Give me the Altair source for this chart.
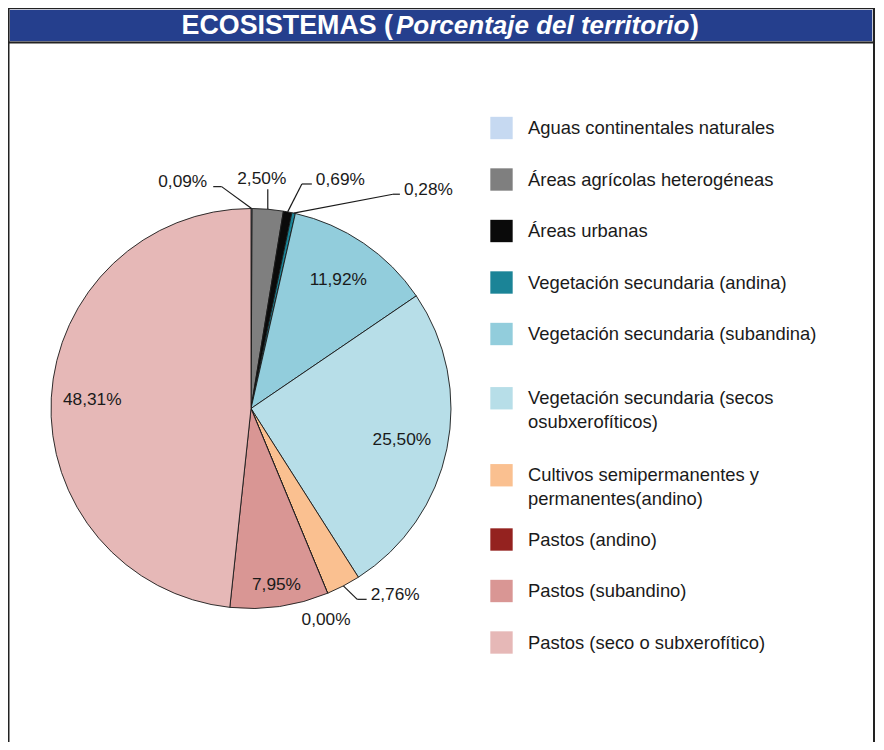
import altair as alt
import pandas as pd
import numpy as np

# ---------------- data ----------------
categories = [
    "Aguas continentales naturales",
    "Áreas agrícolas heterogéneas",
    "Áreas urbanas",
    "Vegetación secundaria (andina)",
    "Vegetación secundaria (subandina)",
    "Vegetación secundaria (secos osubxerofíticos)",
    "Cultivos semipermanentes y permanentes(andino)",
    "Pastos (andino)",
    "Pastos (subandino)",
    "Pastos (seco o subxerofítico)",
]
legend_text = [
    "Aguas continentales naturales",
    "Áreas agrícolas heterogéneas",
    "Áreas urbanas",
    "Vegetación secundaria (andina)",
    "Vegetación secundaria (subandina)",
    "Vegetación secundaria (secos\nosubxerofíticos)",
    "Cultivos semipermanentes y\npermanentes(andino)",
    "Pastos (andino)",
    "Pastos (subandino)",
    "Pastos (seco o subxerofítico)",
]
values = [0.09, 2.50, 0.69, 0.28, 11.92, 25.50, 2.76, 0.00, 7.95, 48.31]
colors = ["#c6d9f1", "#7f7f7f", "#0a0a0a", "#1b8497", "#92cddc",
          "#b7dee8", "#fac090", "#94221f", "#d99694", "#e6b8b7"]

# ---------------- layout ----------------
W, H = 868, 734
CX, CY, R = 243, 400.5, 200
FONT = "Liberation Sans"
TXT = "#1a1a1a"

def ux(px):
    return (px - CX) / R

def uy(py):
    return (CY - py) / R

xs = alt.Scale(domain=[ux(0), ux(W)], nice=False, zero=False)
ys = alt.Scale(domain=[uy(H), uy(0)], nice=False, zero=False)

labels = [f"{v:.2f}".replace(".", ",") + "%" for v in values]
cum = np.cumsum([0] + values)
total = cum[-1]
mid_deg = [(cum[i] + values[i] / 2) / total * 360 for i in range(len(values))]

# inside label radius (fraction of R)
inside = {
    "Vegetación secundaria (subandina)": 0.775,
    "Vegetación secundaria (secos osubxerofíticos)": 0.77,
    "Pastos (subandino)": 0.89,
    "Pastos (seco o subxerofítico)": 0.795,
}
# outside labels: (angle offset deg, elbow radius, horizontal length, text side)
outside = {
    "Aguas continentales naturales": (-7.7, 1.119, -0.042, "right"),
    "Áreas agrícolas heterogéneas": (-0.45, 1.099, 0.0, "top"),
    "Áreas urbanas": (2.2, 1.151, 0.05, "left"),
    "Vegetación secundaria (andina)": (21.2, 1.285, 0.035, "left"),
    "Cultivos semipermanentes y permanentes(andino)": (-1.6, 1.092, 0.047, "left"),
    "Pastos (andino)": (3.0, 1.122, 0.0, "free"),
}

def polar(deg, r):
    a = np.deg2rad(deg)
    return r * np.sin(a), r * np.cos(a)

pie_df = pd.DataFrame({"category": categories, "value": values,
                       "order": list(range(len(values)))})

in_rows, seg_rows, txt_rows = [], [], []
for i, c in enumerate(categories):
    if c in inside:
        x, y = polar(mid_deg[i], inside[c])
        in_rows.append({"x": x, "y": y, "label": labels[i]})
    elif c in outside:
        off, er, h, side = outside[c]
        ex, ey = polar(mid_deg[i] + off, er)
        if side == "free":
            txt_rows.append({"x": ex, "y": ey, "label": labels[i], "side": "center"})
            continue
        sx, sy = polar(mid_deg[i], 1.0)
        seg_rows.append({"x": sx, "y": sy, "x2": ex, "y2": ey})
        if h != 0:
            seg_rows.append({"x": ex, "y": ey, "x2": ex + h, "y2": ey})
        if side == "left":
            txt_rows.append({"x": ex + h + 4 / R, "y": ey + 4 / R, "label": labels[i], "side": "left"})
        elif side == "right":
            txt_rows.append({"x": ex + h - 6 / R, "y": ey + 4.5 / R, "label": labels[i], "side": "right"})
        else:
            txt_rows.append({"x": ex - 6 / R, "y": ey + 10 / R, "label": labels[i], "side": "center"})

in_df = pd.DataFrame(in_rows)
seg_df = pd.DataFrame(seg_rows)
txt_df = pd.DataFrame(txt_rows)

# legend rows (pixel layout -> units)
leg_top, h1, h2 = 102.25 - 8, 51.5, 77
ypos, acc = [], leg_top
for t in legend_text:
    hh = h2 if "\n" in t else h1
    ypos.append(acc + hh / 2)
    acc += hh
leg_df = pd.DataFrame({
    "category": categories,
    "text": legend_text,
    "sx": [ux(493.5)] * len(categories),
    "tx": [ux(520)] * len(categories),
    "y": [uy(p) for p in ypos],
})

one = pd.DataFrame({"a": [0]})

# ---------------- frame & title bar ----------------
bar = alt.Chart(one).mark_rect(color="#253f8d", stroke="#c4c7d4", strokeWidth=1).encode(
    x=alt.value(1.5), x2=alt.value(864.5), y=alt.value(1.5), y2=alt.value(33.5))
frame = [
    alt.Chart(one).mark_rule(color="#222222", strokeWidth=2).encode(
        x=alt.value(0), x2=alt.value(867), y=alt.value(0), y2=alt.value(0)),
    alt.Chart(one).mark_rule(color="#222222", strokeWidth=2).encode(
        x=alt.value(0), x2=alt.value(867), y=alt.value(34.5), y2=alt.value(34.5)),
    alt.Chart(one).mark_rule(color="#222222", strokeWidth=2).encode(
        x=alt.value(0.5), x2=alt.value(0.5), y=alt.value(0), y2=alt.value(H)),
    alt.Chart(one).mark_rule(color="#222222", strokeWidth=2).encode(
        x=alt.value(866), x2=alt.value(866), y=alt.value(0), y2=alt.value(H)),
]
title_a = alt.Chart(one).mark_text(font=FONT, fontSize=26.8, fontWeight="bold", color="white",
                                   align="right", baseline="alphabetic").encode(
    x=alt.value(385), y=alt.value(25.5), text=alt.value("ECOSISTEMAS ("))
title_b = alt.Chart(one).mark_text(font=FONT, fontSize=26, fontWeight="bold", fontStyle="italic",
                                   color="white", align="left", baseline="alphabetic").encode(
    x=alt.value(388), y=alt.value(25.5), text=alt.value("Porcentaje del territorio"))
title_c = alt.Chart(one).mark_text(font=FONT, fontSize=26.8, fontWeight="bold", color="white",
                                   align="left", baseline="alphabetic").encode(
    x=alt.value(682), y=alt.value(25.5), text=alt.value(")"))

# ---------------- pie ----------------
pie = alt.Chart(pie_df).mark_arc(outerRadius=R, stroke="#1a1a1a", strokeWidth=0.9).encode(
    theta=alt.Theta("value:Q", stack=True),
    order=alt.Order("order:Q", sort="ascending"),
    color=alt.Color("category:N", scale=alt.Scale(domain=categories, range=colors), legend=None),
    x=alt.value(CX), y=alt.value(CY),
)

X = lambda f: alt.X(f, type="quantitative", scale=xs, axis=None)
Y = lambda f: alt.Y(f, type="quantitative", scale=ys, axis=None)

in_text = alt.Chart(in_df).mark_text(font=FONT, fontSize=17.3, color=TXT,
                                     align="center", baseline="middle").encode(
    x=X("x"), y=Y("y"), text="label:N")

leaders = alt.Chart(seg_df).mark_rule(color="#1a1a1a", strokeWidth=1.2).encode(
    x=X("x"), y=Y("y"), x2="x2:Q", y2="y2:Q")

out_texts = []
for side in ["left", "right", "center"]:
    d = txt_df[txt_df["side"] == side]
    if len(d):
        out_texts.append(alt.Chart(d).mark_text(font=FONT, fontSize=17.3, color=TXT,
                                                align=side, baseline="middle").encode(
            x=X("x"), y=Y("y"), text="label:N"))

# ---------------- legend ----------------
leg_sq = alt.Chart(leg_df).mark_square(size=500, opacity=1, strokeWidth=0).encode(
    x=X("sx"), y=Y("y"),
    color=alt.Color("category:N", scale=alt.Scale(domain=categories, range=colors), legend=None))
leg_tx = alt.Chart(leg_df).mark_text(font=FONT, fontSize=18.4, color=TXT, align="left",
                                     baseline="middle", lineBreak="\n", lineHeight=24).encode(
    x=X("tx"), y=Y("y"), text="text:N")

chart = alt.layer(
    bar, *frame, title_a, title_b, title_c,
    pie, in_text, leaders, *out_texts, leg_sq, leg_tx,
).properties(
    width=W, height=H, padding=0, autosize="none", background="white"
).configure_view(stroke=None)

chart.save("out.html", embed_options={"renderer": "svg", "actions": False})
